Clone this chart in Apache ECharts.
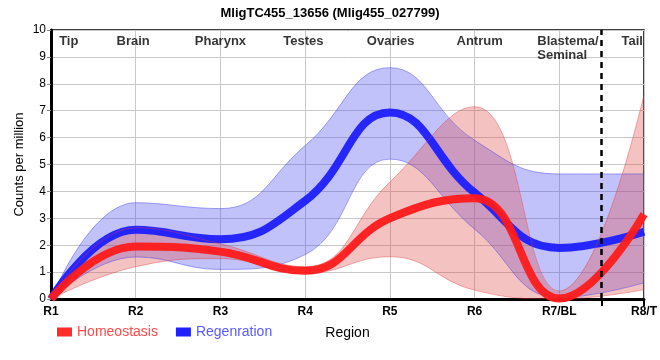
<!DOCTYPE html>
<html>
<head>
<meta charset="utf-8">
<script src="https://cdn.jsdelivr.net/npm/echarts@6/dist/echarts.min.js"></script>
<style>html,body{margin:0;padding:0;background:#fff}#c{width:660px;height:360px}</style>
</head>
<body>
<div id="c"></div>
<script>
// ---- data ----
const categories = ['R1', 'R2', 'R3', 'R4', 'R5', 'R6', 'R7/BL', 'R8/T'];
const homeostasis = [0, 1.95, 1.76, 1.05, 3.0, 3.75, 0.02, 3.15];
const homeoLower = [0, 1.2, 1.5, 0.95, 1.57, 0.33, 0, 0.35];
const homeoUpper = [0, 2.65, 2.05, 1.2, 4.35, 7.15, 0.3, 7.6];
const regeneration = [0, 2.57, 2.22, 3.65, 6.93, 3.95, 1.9, 2.5];
const regenLower = [0, 1.56, 1.1, 1.65, 5.2, 2.6, 0.05, 0.6];
const regenUpper = [0, 3.58, 3.36, 5.7, 8.6, 5.9, 4.65, 4.65];
const regionNames = ['Tip', 'Brain', 'Pharynx', 'Testes', 'Ovaries', 'Antrum', 'Blastema/\nSeminal', 'Tail'];
const regionPos = [0.21, 0.97, 2.0, 2.98, 4.01, 5.06, 5.74, 6.86];
const regionAlign = ['center', 'center', 'center', 'center', 'center', 'center', 'left', 'center'];
const dividerAt = 6.5;
const yTicks = [0, 10, 1];

const FONT = "'Liberation Sans', Arial, sans-serif";
const diff = (up, lo) => up.map((v, i) => +(v - lo[i]).toFixed(3));

const chart = echarts.init(document.getElementById('c'), null, {renderer: 'canvas'});
const bandSmooth = 0.45;
const lineSmooth = 0.45;

chart.setOption({
  animation: false,
  title: {
    text: 'MligTC455_13656 (Mlig455_027799)',
    left: 'center', top: 2,
    textStyle: {fontFamily: FONT, fontSize: 13, fontWeight: 'bold', color: '#000'}
  },
  grid: {left: 51, right: 8, top: 30, bottom: 61, show: true, borderColor: '#000', borderWidth: 1.5},
  legend: {
    left: 52, top: 320, itemWidth: 15, itemHeight: 9, itemGap: 18, icon: 'rect',
    textStyle: {fontFamily: FONT, fontSize: 14},
    data: [
      {name: 'Homeostasis', textStyle: {color: '#ff4a4a'}},
      {name: 'Regenration', textStyle: {color: '#5a5aff'}}
    ]
  },
  xAxis: [{
    type: 'category', data: categories, boundaryGap: false,
    name: 'Region', nameLocation: 'middle', nameGap: 27,
    nameTextStyle: {fontFamily: FONT, fontSize: 14, color: '#000'},
    axisLine: {lineStyle: {color: '#000', width: 3}},
    axisTick: {show: false},
    axisLabel: {margin: 7, fontFamily: FONT, fontSize: 12, fontWeight: 'bold', color: '#000', interval: 0},
    splitLine: {show: true, interval: 0, lineStyle: {color: '#c8c8c8', width: 1}}
  }, {
    type: 'value', min: 0, max: categories.length - 1, position: 'bottom',
    axisLine: {show: false}, axisLabel: {show: false}, splitLine: {show: false},
    axisTick: {show: true, customValues: [dividerAt, categories.length - 1], length: 7, lineStyle: {color: '#000', width: 2}}
  }],
  yAxis: {
    type: 'value', min: yTicks[0], max: yTicks[1], interval: yTicks[2],
    name: 'Counts per million', nameLocation: 'middle', nameGap: 25, nameMoveOverlap: false,
    nameTextStyle: {fontFamily: FONT, fontSize: 13, color: '#000'},
    axisLine: {show: true, lineStyle: {color: '#000', width: 3}},
    axisTick: {show: true, length: 4, lineStyle: {color: '#888'}},
    axisLabel: {margin: 5, fontFamily: FONT, fontSize: 12, color: '#000'},
    splitLine: {show: true, lineStyle: {color: '#c8c8c8', width: 1}}
  },
  series: [
    {
      name: 'regenLo', type: 'line', stack: 'regen', data: regenLower, smooth: bandSmooth,
      symbol: 'none', lineStyle: {width: 1, color: 'rgba(60,60,230,0.45)'}, silent: true
    },
    {
      name: 'regenBand', type: 'line', stack: 'regen', data: diff(regenUpper, regenLower), smooth: bandSmooth,
      symbol: 'none', lineStyle: {width: 1, color: 'rgba(60,60,230,0.45)'},
      areaStyle: {color: 'rgba(70,70,240,0.47)'}, silent: true
    },
    {
      name: 'Regenration', type: 'line', data: regeneration, smooth: lineSmooth,
      symbol: 'none', itemStyle: {color: '#2020ff'},
      lineStyle: {width: 8, color: '#1e1eff', opacity: 0.95}
    },
    {
      name: 'homeoLo', type: 'line', stack: 'homeo', data: homeoLower, smooth: bandSmooth,
      symbol: 'none', lineStyle: {width: 1, color: 'rgba(220,60,60,0.4)'}, silent: true
    },
    {
      name: 'homeoBand', type: 'line', stack: 'homeo', data: diff(homeoUpper, homeoLower), smooth: bandSmooth,
      symbol: 'none', lineStyle: {width: 1, color: 'rgba(220,60,60,0.4)'},
      areaStyle: {color: 'rgba(225,70,70,0.47)'}, silent: true
    },
    {
      name: 'Homeostasis', type: 'line', data: homeostasis, smooth: lineSmooth,
      symbol: 'none', itemStyle: {color: '#ff2a2a'},
      lineStyle: {width: 8, color: '#ff1a1a', opacity: 0.95}
    },
    {
      name: 'regions', type: 'scatter', xAxisIndex: 1, symbolSize: 0, silent: true,
      data: regionNames.map((n, i) => ({value: [regionPos[i], 10], name: n, label: {align: regionAlign[i]}})),
      label: {
        show: true, position: 'bottom', distance: 4, formatter: (p) => p.name,
        fontFamily: FONT, fontSize: 13, fontWeight: 'bold', color: '#000', lineHeight: 14
      },
      markLine: {
        silent: true, symbol: 'none', label: {show: false},
        lineStyle: {color: '#000', type: [6, 5], width: 2.5},
        data: [{xAxis: dividerAt}]
      }
    }
  ]
});
</script>
</body>
</html>
